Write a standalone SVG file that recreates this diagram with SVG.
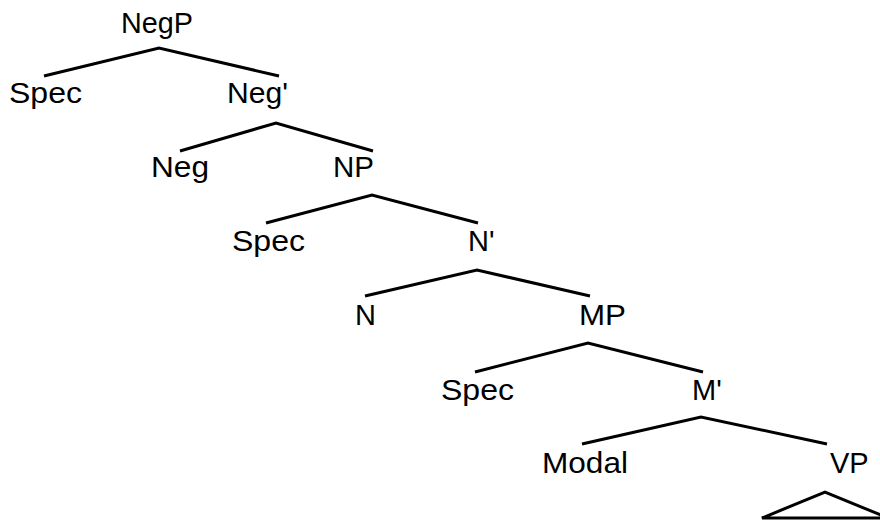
<svg xmlns="http://www.w3.org/2000/svg" width="880" height="521" viewBox="0 0 880 521">
<style>
text { font-family: "Liberation Sans", Arial, sans-serif; font-size: 29px; fill: #000; }
.edge { fill: none; stroke: #000; stroke-width: 3; stroke-linejoin: miter; }
</style>
<rect width="880" height="521" fill="#fff"/>
<g id="connectors">
<polyline class="edge" points="44,76 159,48 279,76"/>
<polyline class="edge" points="180,151 276,123 373,151"/>
<polyline class="edge" points="266,223 372,195 478,223"/>
<polyline class="edge" points="365,296 477,270 590,296"/>
<polyline class="edge" points="475,372 588,343 703,372"/>
<polyline class="edge" points="582,444 701,417 827,444"/>
<polygon class="edge" points="762,518 825,492 888,518"/>
</g>
<g id="negp"><text x="121" y="33" textLength="72" lengthAdjust="spacingAndGlyphs">NegP</text></g>
<g id="spec1"><text x="9" y="103" textLength="73" lengthAdjust="spacingAndGlyphs">Spec</text></g>
<g id="negbar"><text x="227" y="103" textLength="61" lengthAdjust="spacingAndGlyphs">Neg'</text></g>
<g id="neg"><text x="151" y="177" textLength="58" lengthAdjust="spacingAndGlyphs">Neg</text></g>
<g id="np"><text x="333" y="177" textLength="41" lengthAdjust="spacingAndGlyphs">NP</text></g>
<g id="spec2"><text x="232" y="251" textLength="73" lengthAdjust="spacingAndGlyphs">Spec</text></g>
<g id="nbar"><text x="468" y="251">N'</text></g>
<g id="n"><text x="355" y="325">N</text></g>
<g id="mp"><text x="579" y="325" textLength="47" lengthAdjust="spacingAndGlyphs">MP</text></g>
<g id="spec3"><text x="441" y="400" textLength="73" lengthAdjust="spacingAndGlyphs">Spec</text></g>
<g id="mbar"><text x="692" y="400">M'</text></g>
<g id="modal"><text x="542" y="473" textLength="86" lengthAdjust="spacingAndGlyphs">Modal</text></g>
<g id="vp"><text x="830" y="473">VP</text></g>
</svg>
